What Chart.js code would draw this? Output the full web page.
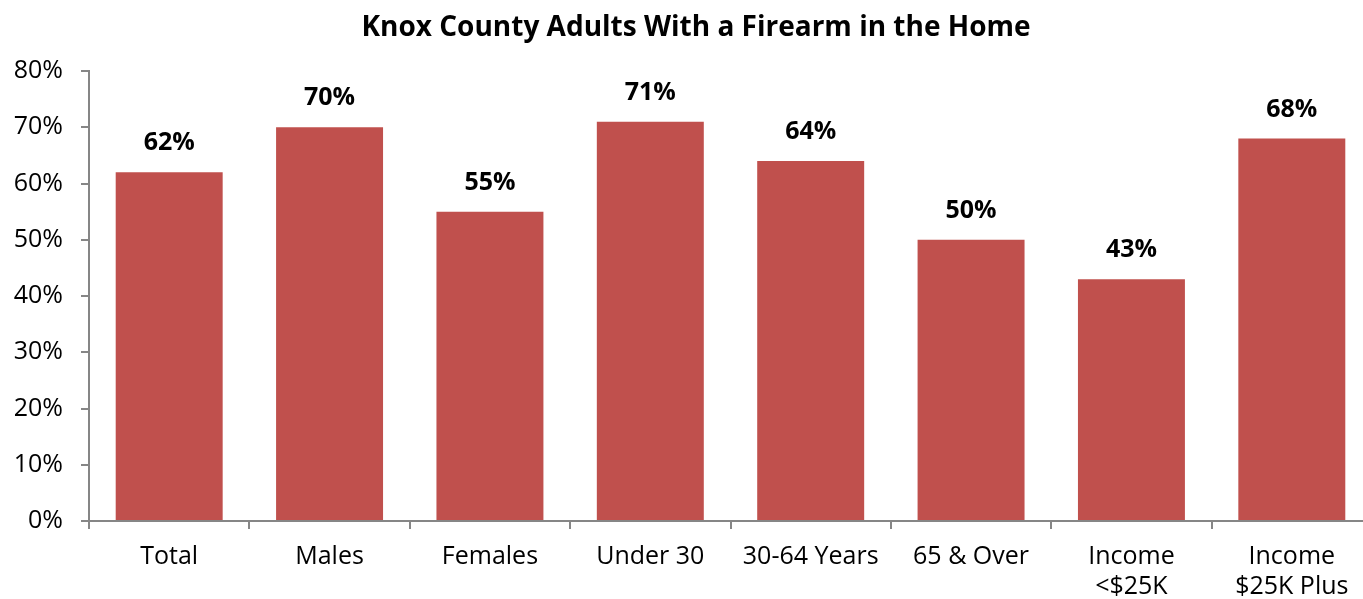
<!DOCTYPE html>
<html>
<head>
<meta charset="utf-8">
<script src="https://cdn.jsdelivr.net/npm/chart.js@4"></script>
<style>
html,body{margin:0;padding:0;overflow:hidden;background:#fff;}
#wrap{width:1372px;height:599px;position:relative;}
</style>
</head>
<body>
<div id="wrap"><canvas id="c"></canvas></div>
<script>
const chartTitle = "Knox County Adults With a Firearm in the Home";
const categories = ["Total", "Males", "Females", "Under 30", "30-64 Years", "65 & Over", ["Income", "<$25K"], ["Income", "$25K Plus"]];
const values = [62, 70, 55, 71, 64, 50, 43, 68];
const yTicks = [0, 10, 20, 30, 40, 50, 60, 70, 80];

const FONT = "'Open Sans', 'Noto Sans', sans-serif";
const AXIS = "#868686";

const labelPlugin = {
  id: "labels",
  afterDatasetsDraw(chart) {
    const ctx = chart.ctx;
    const meta = chart.getDatasetMeta(0);
    ctx.save();
    ctx.font = "bold 25px " + FONT;
    ctx.fillStyle = "#000";
    ctx.textAlign = "center";
    ctx.textBaseline = "middle";
    meta.data.forEach((bar, i) => {
      ctx.fillText(values[i] + "%", bar.x, bar.y - 29);
    });
    ctx.restore();
  },
  afterDraw(chart) {
    const ctx = chart.ctx;
    ctx.save();
    ctx.font = "bold 28px " + FONT;
    ctx.fillStyle = "#000";
    ctx.textAlign = "center";
    ctx.textBaseline = "middle";
    ctx.fillText(chartTitle, 696, 28);
    ctx.restore();
  }
};

new Chart(document.getElementById("c"), {
  type: "bar",
  data: {
    labels: categories,
    datasets: [{
      data: values,
      backgroundColor: "#C0504D",
      barPercentage: 0.667,
      categoryPercentage: 1.0
    }]
  },
  options: {
    responsive: true,
    maintainAspectRatio: false,
    animation: false,
    devicePixelRatio: 1,
    layout: { padding: { top: 71, left: 0, right: 0, bottom: 0 } },
    plugins: { legend: { display: false }, tooltip: { enabled: false }, title: { display: false } },
    scales: {
      y: {
        min: 0, max: 80,
        afterFit(s) { s.width = 89; },
        afterBuildTicks(s) { s.ticks = yTicks.map(v => ({ value: v })); },
        ticks: {
          padding: 18,
          color: "#000",
          font: { family: FONT, size: 25 },
          callback: v => v + "%"
        },
        grid: { drawOnChartArea: false, drawTicks: true, tickLength: 8, color: AXIS, lineWidth: 2 },
        border: { display: true, color: AXIS, width: 2 }
      },
      x: {
        afterFit(s) { s.height = 78; },
        ticks: {
          padding: 13,
          color: "#000",
          font: { family: FONT, size: 25, lineHeight: 1.2 },
          maxRotation: 0, autoSkip: false
        },
        grid: { offset: true, drawOnChartArea: false, drawTicks: true, tickLength: 8, color: AXIS, lineWidth: 2 },
        border: { display: true, color: AXIS, width: 2 }
      }
    }
  },
  plugins: [labelPlugin]
});
</script>
</body>
</html>
